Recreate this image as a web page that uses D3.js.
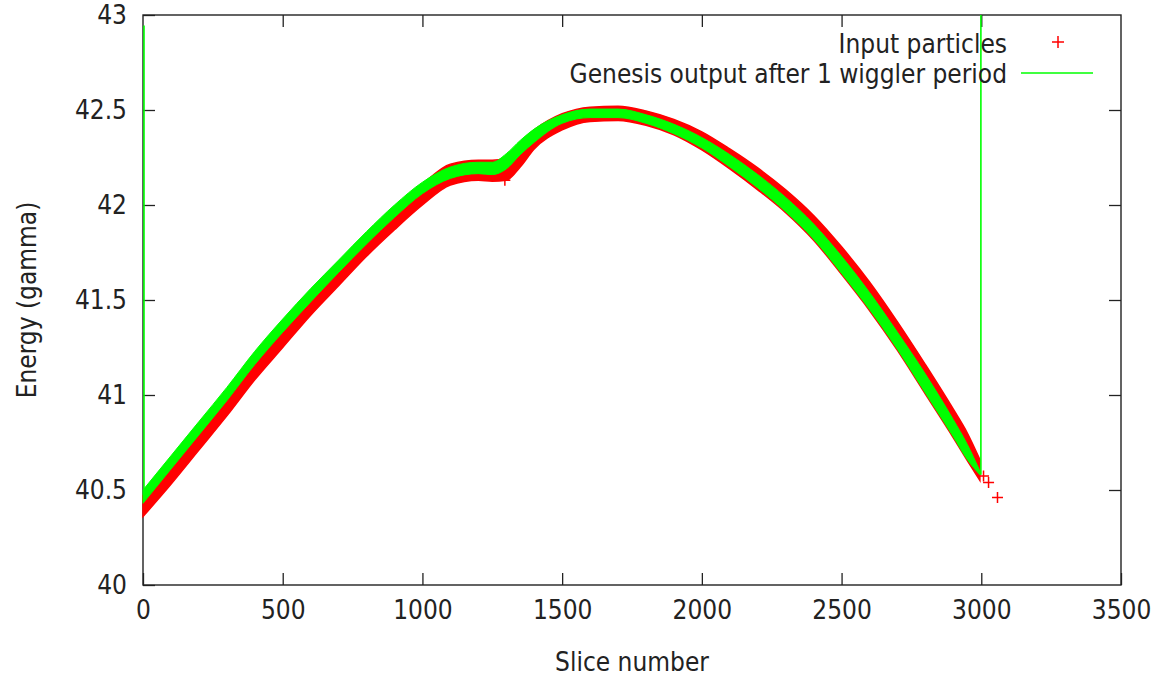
<!DOCTYPE html>
<html>
<head>
<meta charset="utf-8">
<script src="https://cdn.jsdelivr.net/npm/d3@7"></script>
<style>
  body { margin: 0; background: #fff; }
  text { font-family: "DejaVu Sans Condensed", "DejaVu Sans", sans-serif; font-stretch: condensed; fill: #222; }
</style>
</head>
<body>
<div id="chart"></div>
<script>
// datos (envolventes):
const slices = [0, 100, 200, 300, 400, 500, 600, 700, 800, 900, 1000, 1100, 1200, 1250, 1300, 1350, 1400,
  1500, 1600, 1700, 1800, 1900, 2000, 2100, 2200, 2300, 2400, 2500, 2600, 2700, 2800, 2900, 2950, 2995]
const inputHigh = [40.47, 40.66, 40.84, 41.02, 41.21, 41.38, 41.54, 41.69, 41.84, 41.98, 42.11, 42.215, 42.235, 42.235, 42.25, 42.33, 42.395,
  42.48, 42.515, 42.52, 42.495, 42.45, 42.385, 42.295, 42.195, 42.08, 41.945, 41.78, 41.595, 41.385, 41.16, 40.925, 40.80, 40.66]
const inputLow = [40.36, 40.53, 40.71, 40.89, 41.08, 41.25, 41.42, 41.575, 41.73, 41.87, 42.00, 42.105, 42.13, 42.125, 42.13, 42.20, 42.295,
  42.395, 42.44, 42.445, 42.42, 42.37, 42.29, 42.19, 42.08, 41.96, 41.815, 41.635, 41.445, 41.235, 41.005, 40.775, 40.655, 40.55]
const genesisHigh = [40.50, 40.68, 40.86, 41.04, 41.23, 41.40, 41.56, 41.71, 41.86, 42.00, 42.12, 42.20, 42.225, 42.225, 42.27, 42.34, 42.40,
  42.475, 42.505, 42.505, 42.475, 42.425, 42.355, 42.265, 42.16, 42.04, 41.90, 41.73, 41.54, 41.33, 41.11, 40.87, 40.74, 40.60]
const genesisLow = [40.43, 40.61, 40.79, 40.97, 41.16, 41.33, 41.49, 41.645, 41.795, 41.935, 42.06, 42.14, 42.165, 42.16, 42.19, 42.265, 42.33,
  42.43, 42.46, 42.46, 42.43, 42.375, 42.30, 42.20, 42.09, 41.965, 41.82, 41.64, 41.45, 41.24, 41.01, 40.78, 40.66, 40.58]

// particulas sueltas
const outlierSlices = [1295, 3008, 3026, 3058]
const outlierEnergy = [42.13, 40.574, 40.539, 40.46]

// tramos verticales de la salida de Genesis
const genesisLegSlices = [0, 0, null, 2995, 2995]
const genesisLegEnergy = [42.945, 40.47, null, 40.58, 43.1]

const xTicks = [0, 500, 1000, 1500, 2000, 2500, 3000, 3500]
const yTicks = [40, 40.5, 41, 41.5, 42, 42.5, 43]
const seriesNames = ["Input particles", "Genesis output after 1 wiggler period"]

// Constantes:
const width = 1156
const height = 676
const margins = { top: 15, left: 143, right: 35, bottom: 91 }
const eWidth = width - margins.left - margins.right
const eHeight = height - margins.top - margins.bottom
const fontSize = 26
const red = "#ff0000"
const green = "#00ff00"

// grupos:
let svg = d3.select('div#chart').append('svg').attr('width', width).attr('height', height)
svg.append('clipPath').attr('id', 'plotClip').append('rect')
  .attr('x', -2).attr('width', eWidth + 2).attr('height', eHeight)
let axisGroup = svg.append('g').attr('id', 'axisGroup')
  .attr('transform', `translate(${margins.left}, ${margins.top})`)
let elementGroup = svg.append('g').attr('id', 'elementGroup')
  .attr('transform', `translate(${margins.left}, ${margins.top})`)
let dataGroup = elementGroup.append('g').attr('clip-path', 'url(#plotClip)')

// escalas:
let x = d3.scaleLinear().range([0, eWidth]).domain([0, 3500])
let y = d3.scaleLinear().range([eHeight, 0]).domain([40, 43])

// ejes (marcas hacia dentro, en los cuatro lados):
let xAxis = d3.axisBottom(x).tickValues(xTicks).tickSizeInner(-12).tickSizeOuter(0).tickPadding(16).tickFormat(d3.format('d'))
let yAxis = d3.axisLeft(y).tickValues(yTicks).tickSizeInner(-12).tickSizeOuter(0).tickPadding(16).tickFormat(d3.format(''))
let xAxisTop = d3.axisTop(x).tickValues(xTicks.slice(1, -1)).tickSizeInner(-12).tickSizeOuter(0).tickFormat('')
let yAxisRight = d3.axisRight(y).tickValues(yTicks.slice(1, -1)).tickSizeInner(-12).tickSizeOuter(0).tickFormat('')

axisGroup.append('g').attr('transform', `translate(0, ${eHeight})`).call(xAxis)
axisGroup.append('g').call(yAxis)
axisGroup.append('g').call(xAxisTop)
axisGroup.append('g').attr('transform', `translate(${eWidth}, 0)`).call(yAxisRight)
axisGroup.selectAll('.domain').remove()
axisGroup.selectAll('.tick line').attr('stroke', '#222').attr('stroke-width', 1.3)
axisGroup.selectAll('.tick text').attr('font-size', fontSize).attr('fill', '#222')
  .style('font-family', '"DejaVu Sans Condensed", "DejaVu Sans", sans-serif')

axisGroup.append('rect').attr('width', eWidth).attr('height', eHeight)
  .attr('fill', 'none').attr('stroke', '#222').attr('stroke-width', 1.4)

// bandas:
let inputArea = d3.area().curve(d3.curveMonotoneX)
  .x((d, i) => x(slices[i])).y0((d, i) => y(inputLow[i])).y1((d, i) => y(inputHigh[i]))
let genesisArea = d3.area().curve(d3.curveMonotoneX)
  .x((d, i) => x(slices[i])).y0((d, i) => y(genesisLow[i])).y1((d, i) => y(genesisHigh[i]))

dataGroup.append('path').datum(slices).attr('d', inputArea)
  .attr('fill', red).attr('stroke', red).attr('stroke-width', 1.5)

function drawPlus(sel, px, py, r) {
  sel.append('path')
    .attr('d', `M${px - r},${py}H${px + r}M${px},${py - r}V${py + r}`)
    .attr('stroke', red).attr('stroke-width', 1.5).attr('fill', 'none')
}
outlierSlices.forEach((s, i) => drawPlus(dataGroup, x(s), y(outlierEnergy[i]), 5.5))

dataGroup.append('path').datum(slices).attr('d', genesisArea)
  .attr('fill', green).attr('stroke', green).attr('stroke-width', 1)

let legLine = d3.line().defined(d => d !== null).x(d => x(d) + 1).y((d, i) => y(genesisLegEnergy[i]))
dataGroup.append('path').datum(genesisLegSlices).attr('d', legLine)
  .attr('fill', 'none').attr('stroke', green).attr('stroke-width', 1.6)

// titulos de ejes
svg.append('text').attr('x', margins.left + x(1750)).attr('y', 671)
  .attr('text-anchor', 'middle').attr('font-size', fontSize).text('Slice number')
svg.append('text').attr('transform', `translate(36, ${margins.top + y(41.5)}) rotate(-90)`)
  .attr('text-anchor', 'middle').attr('font-size', fontSize).text('Energy (gamma)')

// leyenda
let legend = svg.append('g').attr('transform', `translate(1007, 44)`)
legend.append('text').attr('x', 0).attr('y', 0).attr('dy', '0.35em')
  .attr('text-anchor', 'end').attr('font-size', fontSize).text(seriesNames[0])
drawPlus(legend, 51, -2, 6)
legend.append('text').attr('x', 0).attr('y', 30).attr('dy', '0.35em')
  .attr('text-anchor', 'end').attr('font-size', fontSize).text(seriesNames[1])
legend.append('line').attr('x1', 14).attr('x2', 86).attr('y1', 29).attr('y2', 29)
  .attr('stroke', green).attr('stroke-width', 1.6)
</script>
</body>
</html>
